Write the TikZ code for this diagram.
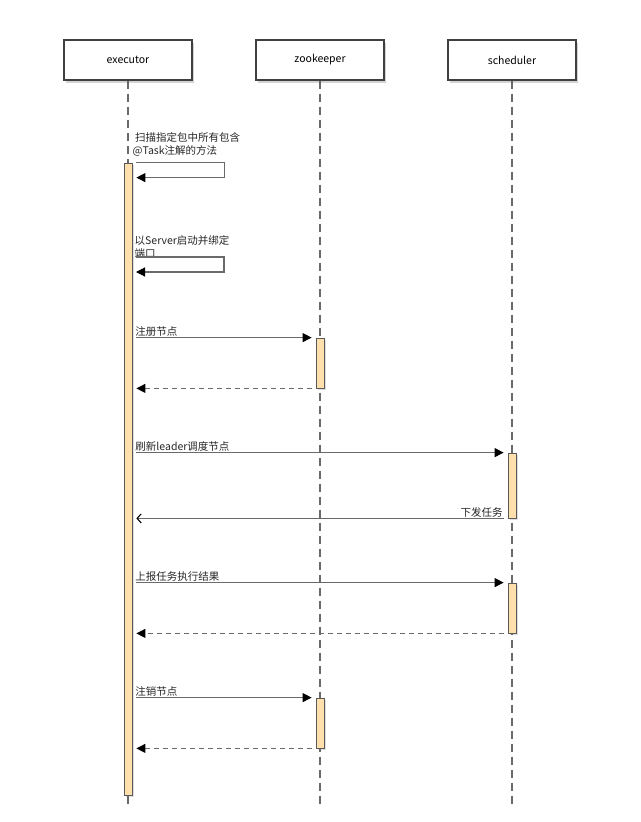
\documentclass[tikz,border=0pt]{standalone}
\usepackage{fontspec}
\setmainfont{Noto Sans CJK SC}
\usetikzlibrary{arrows.meta,shadows}
\definecolor{barfill}{HTML}{FFE0AC}
\definecolor{linegray}{HTML}{6A6A6A}
\begin{document}
\begin{tikzpicture}[x=1pt,y=-1pt,
    actor/.style={draw=black!75,line width=1.2pt,fill=white,minimum width=128pt,minimum height=40pt,inner sep=0pt,
        font=\fontsize{10.5}{12}\selectfont,drop shadow={shadow xshift=2pt,shadow yshift=-3pt,opacity=0.35}},
    life/.style={draw=linegray,line width=1.3pt,dash pattern=on 8pt off 5pt},
    bar/.style={draw=black!65,line width=0.8pt,fill=barfill,minimum width=8pt,inner sep=0pt,
        drop shadow={shadow xshift=2pt,shadow yshift=-2pt,opacity=0.25}},
    msg/.style={draw=linegray,line width=1.1pt,-{Triangle[length=9pt,width=9pt,color=black]},shorten <=4pt,shorten >=4pt},
    reply/.style={msg,dash pattern=on 5pt off 4pt},
    answer/.style={draw=linegray,line width=1.1pt,-{Straight Barb[length=4pt,width=9pt,color=black]},shorten <=4pt,shorten >=4pt},
    lbl/.style={font=\fontsize{10.5}{12.5}\selectfont,inner sep=0.5pt,text=black!85,align=left}
]
    \useasboundingbox (0,0) rectangle (640,822);

    % participants
    \node[actor] (exec) at (128,60) {executor};
    \node[actor] (zk) at (320,60) {zookeeper};
    \node[actor] (sched) at (512,60) {scheduler};

    \coordinate (execend) at (128,808);
    \coordinate (zkend) at (320,808);
    \coordinate (schedend) at (512,808);
    \draw[life] (exec.south) -- (execend);
    \draw[life] (zk.south) -- (zkend);
    \draw[life] (sched.south) -- (schedend);

    % activations
    \node[bar,minimum height=632pt] (ea) at (128,479) {};
    \node[bar,minimum height=50pt] (zb1) at (320,363) {};
    \node[bar,minimum height=65pt] (sb1) at (512,485.5) {};
    \node[bar,minimum height=50pt] (sb2) at (512,608) {};
    \node[bar,minimum height=50pt] (zb2) at (320,723) {};

    % self calls
    \node[lbl,anchor=south west] (scan) at (132,157) {\ 扫描指定包中所有包含\\@Task注解的方法};
    \draw[msg,shorten <=0pt,shorten >=0pt] ([xshift=4pt]ea.north east) -- ++(88,0) |- ([xshift=4pt,yshift=-15pt]ea.north east);

    \coordinate (bind) at (136,257);
    \node[lbl,anchor=south west] (bindlbl) at (134,259) {以Server启动并绑定\\端口};
    \draw[msg,shorten <=0pt,shorten >=0pt] (bind) -- ++(88,0) |- ([yshift=-15pt]bind);

    % messages
    \draw[msg] (ea.east |- zb1.north) -- node[lbl,anchor=south west,pos=0,xshift=2pt] (reg) {注册节点} (zb1.north west);
    \draw[reply] (zb1.south west) -- (ea.east |- zb1.south);

    \draw[msg] (ea.east |- sb1.north) -- node[lbl,anchor=south west,pos=0,xshift=2pt] (refresh) {刷新leader调度节点} (sb1.north west);
    \draw[answer] (sb1.south west) -- node[lbl,anchor=south east,pos=0,xshift=-4pt] (dispatch) {下发任务} (ea.east |- sb1.south);

    \draw[msg] (ea.east |- sb2.north) -- node[lbl,anchor=south west,pos=0,xshift=2pt] (report) {上报任务执行结果} (sb2.north west);
    \draw[reply] (sb2.south west) -- (ea.east |- sb2.south);

    \draw[msg] (ea.east |- zb2.north) -- node[lbl,anchor=south west,pos=0,xshift=2pt] (unreg) {注销节点} (zb2.north west);
    \draw[reply] (zb2.south west) -- (ea.east |- zb2.south);
\end{tikzpicture}
\end{document}
